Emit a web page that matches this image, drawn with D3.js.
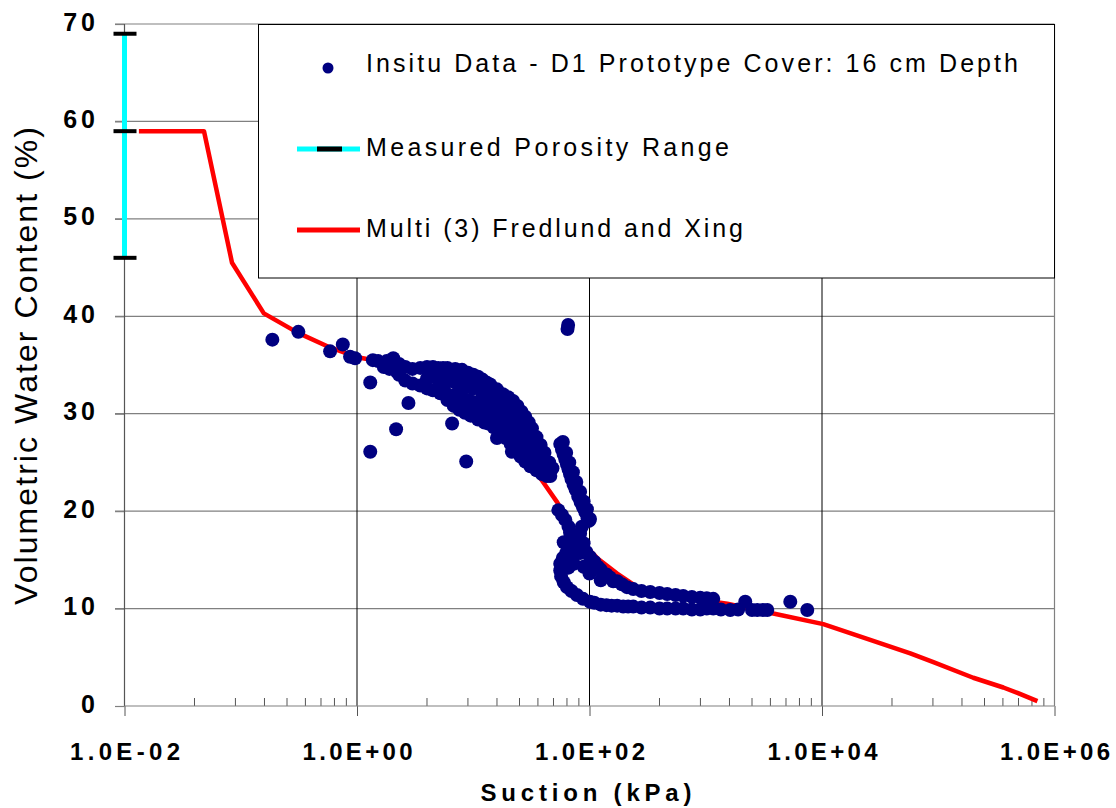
<!DOCTYPE html>
<html>
<head>
<meta charset="utf-8">
<script src="https://cdn.jsdelivr.net/npm/d3@7"></script>
<style>
  body { margin: 0; background: #fff; }
  svg { display: block; font-family: "Liberation Sans", Arial, sans-serif; }
</style>
</head>
<body>
<svg id="chart" width="1116" height="808"></svg>
<script>
// in situ readings, [suction (kPa), volumetric water content (%)]
var insituData = [
  // scattered points
  [0.187,37.6],[0.313,38.4],[0.587,36.4],[0.755,37.1],[0.872,35.85],[0.963,35.7],
  [1.30,33.2],[1.30,26.1],[2.17,28.4],[2.77,31.1],[6.58,29.0],[8.7,25.1],[16.0,27.5],[21.5,26.1],
  [64.7,38.7],[65.5,39.1],
  // main band
  [1.37,35.5],[1.52,35.4],[1.7,34.8],[1.9,34.6],[2.05,35.7],[2.2,34.3],[2.3,34.0],
  [1.8,35.4],[2.0,35.3],[2.3,35.1],[2.6,34.8],[3.0,34.6],[3.5,34.7],[4.0,34.8],[4.5,34.8],[5.0,34.7],
  [5.5,34.7],[6.0,34.7],[7.0,34.6],[8.0,34.5],[9.0,34.2],[10,34.0],[11,33.8],[12,33.5],[13,33.2],
  [14,33.0],[16,32.5],[18,32.0],[20,31.7],[22,31.3],[24,30.8],[26,30.2],[28,29.7],[30,29.1],[32,28.5],
  [35,27.6],[38,26.8],[41,26.0],[45,25.0],[48,24.4],
  [4.5,34.1],[5.5,34.0],[6.5,33.9],[7.5,33.8],[8.5,33.6],[9.5,33.4],[11,33.0],[13,32.4],[15,31.9],
  [17,31.4],[19,30.9],[21,30.5],[23.5,29.9],[26.5,29.1],[29.5,28.2],[33,27.2],[36,26.3],[39,25.6],[43,24.8],
  [4,33.6],[5,33.45],[6,33.3],[7,33.2],[8,33.0],[9,32.8],[10,32.6],[12,32.0],[14,31.6],[16,31.2],
  [18,30.7],[20,30.2],[22,29.8],[25,29.0],[28,28.2],[31,27.4],[34,26.6],[37,25.9],
  [6,32.0],[7,31.9],[8,31.7],[9,31.4],[10,31.2],[12,30.8],[14,30.3],[16,29.9],[18,29.4],[20,28.8],
  [22,28.3],[25,27.3],[28,26.6],[31,25.8],[34,25.2],
  [5.5,32.4],[6.5,31.7],[7.5,31.2],[8.5,30.8],[9.5,30.5],[11,30.1],[13,29.7],[15,29.3],[17,28.7],
  [19,28.2],[21,27.7],[23.5,27.0],[26.5,26.2],[29.5,25.6],[33,24.9],[37,24.4],[41,24.0],
  [2.6,33.4],[3.0,33.1],[3.5,32.9],[4.0,32.6],[4.5,32.4],[5.2,32.1],[6.0,31.4],[6.8,30.8],[7.6,30.4],
  [8.5,30.1],[9.5,29.8],[11,29.4],[12.5,29.1],[13.5,29.0],[15,28.6],[17,28.0],[19,27.5],[21,26.9],
  [23,26.3],[25.5,25.6],[28,25.1],[31,24.6],[35,24.2],[39,23.8],[43,23.6],[46,23.6],
  // right branch
  [56,26.9],[58,26.3],[60,25.8],[62,25.3],[64,24.8],[66,24.3],[68,23.8],[70,23.3],[73,22.7],[76,22.2],
  [80,21.5],[84,20.9],[88,20.4],[92,19.9],[96,19.3],[99,19.0],
  [59,27.1],[63,26.0],[67,25.0],[72,24.0],[77,23.0],[83,22.0],[89,21.0],[95,20.2],[101,19.2],
  // lower blob
  [54,20.1],[58,19.6],[62,19.1],[66,18.4],[68,17.8],[72,17.0],[66,16.3],[63,15.7],[59,15.2],[56,14.6],
  [56,13.9],[57,13.3],[60,12.7],[64,12.2],[70,11.8],[78,11.4],[88,11.0],[101,10.7],[78,16.4],[83,17.7],
  [89,16.7],[83,15.7],[73,14.6],[89,14.3],[101,15.3],[100,13.6],[66,14.2],
  [60,16.8],[75,15.6],[94,15.8],[86,18.4],[70,15.2],
  // upper tail
  [110,14.8],[118,14.3],[125,14.0],[125,12.9],[140,13.5],[150,13.2],[160,12.8],[173,12.8],[190,12.5],
  [210,12.2],[238,12.0],[280,11.8],[333,11.7],[400,11.6],[466,11.5],[550,11.4],[640,11.3],[760,11.2],
  [897,11.1],[1020,11.05],[1160,11.0],
  // lower tail
  [110,10.6],[125,10.4],[140,10.35],[155,10.3],[173,10.3],[195,10.2],[215,10.2],[238,10.2],[280,10.1],
  [333,10.1],[400,10.0],[466,10.0],[550,10.0],[640,10.0],[760,9.9],[897,9.9],[1020,10.0],[1160,10.0],
  [1350,9.9],[1625,9.85],[1900,9.9],[2187,10.7],[2500,9.85],[2775,9.85],[3100,9.85],[3383,9.85],
  [5336,10.7],[7470,9.85]
];

// Multi (3) Fredlund and Xing fit
var fitSuction = [0.0133, 0.0483, 0.0841, 0.158, 0.311, 0.586, 1.0, 3.04, 6.33, 14.0, 25.4, 37.7, 52.8,
  83.2, 116, 173, 273, 603, 1531, 3810, 10260, 24500, 57500, 90800, 200000, 363000, 480000, 713000];
var fitVWC = [59, 59, 45.5, 40.3, 38.3, 36.8, 35.8, 34.8, 33.8, 31.5, 27.8, 23.4, 20.9,
  17.0, 15.2, 13.6, 12.0, 11.2, 10.5, 9.5, 8.4, 6.9, 5.4, 4.5, 2.9, 1.9, 1.35, 0.5];

// measured porosity: min, value, max
var porositySuction = 0.01;
var porosityValues = [46, 59, 69];

var yTicks = [0, 10, 20, 30, 40, 50, 60, 70];
var xMajorTicks = [1e-2, 1e0, 1e2, 1e4, 1e6];
var xTickLabels = ["1.0E-02", "1.0E+00", "1.0E+02", "1.0E+04", "1.0E+06"];
var legendLabels = ["Insitu Data - D1 Prototype Cover: 16 cm Depth", "Measured Porosity Range", "Multi (3) Fredlund and Xing"];

function drawChart(){
  var svg = d3.select("#chart");
  var x = d3.scaleLog().domain([1e-2, 1e6]).range([124.5, 1054.5]);
  var y = d3.scaleLinear().domain([0, 70]).range([706, 24]);
  var left = x.range()[0], right = x.range()[1];

  // horizontal grid
  svg.append("g").selectAll("line").data(yTicks.slice(1)).join("line")
    .attr("x1", 115).attr("x2", right)
    .attr("y1", d => y(d)).attr("y2", d => y(d))
    .attr("stroke", "#808080").attr("stroke-width", 1.2);

  // vertical grid
  svg.append("g").selectAll("line").data(xMajorTicks.slice(1, -1)).join("line")
    .attr("x1", d => x(d)).attr("x2", d => x(d))
    .attr("y1", y(0)).attr("y2", y(70))
    .attr("stroke", "#000").attr("stroke-width", 1);
  svg.append("line")
    .attr("x1", right).attr("x2", right).attr("y1", y(0)).attr("y2", y(70))
    .attr("stroke", "#808080").attr("stroke-width", 1.2);

  // y axis
  var yAxis = svg.append("g")
    .attr("transform", `translate(${left},0)`)
    .call(d3.axisLeft(y).tickValues(yTicks).tickSize(9.5).tickPadding(16));
  yAxis.select(".domain").remove();
  yAxis.selectAll(".tick line").attr("stroke", "#808080").attr("stroke-width", 1.2);
  yAxis.selectAll("text")
    .attr("dy", "0.24em")
    .attr("font-family", "Liberation Sans, Arial, sans-serif")
    .attr("font-size", 25).attr("font-weight", "bold")
    .attr("letter-spacing", 4).attr("fill", "#000");
  svg.append("line")
    .attr("x1", left).attr("x2", left).attr("y1", y(0)).attr("y2", y(70))
    .attr("stroke", "#555").attr("stroke-width", 1.2);

  // x axis
  var xAxis = svg.append("g")
    .attr("transform", `translate(0,${y(0)})`)
    .call(d3.axisBottom(x).tickValues(xMajorTicks).tickSize(10)
      .tickFormat((d, i) => xTickLabels[i]));
  xAxis.select(".domain").remove();
  xAxis.selectAll(".tick line").attr("stroke", "#555");
  xAxis.selectAll("text")
    .attr("y", 54).attr("dy", 0)
    .attr("font-family", "Liberation Sans, Arial, sans-serif")
    .attr("font-size", 24).attr("font-weight", "bold").attr("fill", "#000")
    .attr("textLength", 110).attr("lengthAdjust", "spacing");

  var minorTicks = xMajorTicks.slice(0, -1).flatMap(m => d3.range(2, 10).map(k => m * k * k));
  svg.append("g").selectAll("line").data(minorTicks).join("line")
    .attr("x1", d => x(d)).attr("x2", d => x(d))
    .attr("y1", y(0)).attr("y2", y(0) - 8)
    .attr("stroke", "#555");
  svg.append("line")
    .attr("x1", left).attr("x2", right).attr("y1", y(0)).attr("y2", y(0))
    .attr("stroke", "#808080").attr("stroke-width", 1.2);

  // axis titles
  svg.append("text")
    .attr("transform", "translate(37,366) rotate(-90)")
    .attr("text-anchor", "middle")
    .attr("font-size", 32)
    .attr("textLength", 478).attr("lengthAdjust", "spacing")
    .text("Volumetric Water Content (%)");
  svg.append("text")
    .attr("x", 586).attr("y", 801)
    .attr("text-anchor", "middle")
    .attr("font-size", 24).attr("font-weight", "bold")
    .attr("textLength", 211).attr("lengthAdjust", "spacing")
    .text("Suction (kPa)");

  // legend box
  svg.append("rect")
    .attr("x", 258.5).attr("y", 24.5)
    .attr("width", right - 258.5).attr("height", 253.5)
    .attr("fill", "#fff").attr("stroke", "#000");

  // fitted curve
  var line = d3.line().x(d => x(d[0])).y(d => y(d[1]));
  svg.append("path")
    .datum(d3.zip(fitSuction, fitVWC))
    .attr("d", line)
    .attr("fill", "none").attr("stroke", "#ff0000")
    .attr("stroke-width", 4.5).attr("stroke-linejoin", "round");

  // in situ points
  svg.append("g").selectAll("circle").data(insituData).join("circle")
    .attr("cx", d => x(d[0])).attr("cy", d => y(d[1]))
    .attr("r", 7).attr("fill", "#000080");

  // porosity range bar
  var px = x(porositySuction);
  svg.append("line")
    .attr("x1", px).attr("x2", px)
    .attr("y1", y(d3.max(porosityValues))).attr("y2", y(d3.min(porosityValues)))
    .attr("stroke", "#00ffff").attr("stroke-width", 5);
  svg.append("g").selectAll("line").data(porosityValues).join("line")
    .attr("x1", px - 11).attr("x2", px + 12)
    .attr("y1", d => y(d)).attr("y2", d => y(d))
    .attr("stroke", "#000").attr("stroke-width", 4);

  // legend entries
  var lg = svg.append("g");
  lg.append("circle").attr("cx", 328).attr("cy", 68).attr("r", 5.5).attr("fill", "#000080");
  lg.append("line").attr("x1", 297).attr("x2", 360).attr("y1", 149).attr("y2", 149)
    .attr("stroke", "#00ffff").attr("stroke-width", 5);
  lg.append("line").attr("x1", 317).attr("x2", 342).attr("y1", 149).attr("y2", 149)
    .attr("stroke", "#000").attr("stroke-width", 5);
  lg.append("line").attr("x1", 297).attr("x2", 360).attr("y1", 230).attr("y2", 230)
    .attr("stroke", "#ff0000").attr("stroke-width", 5);

  var legendY = [72, 156, 237];
  var legendW = [652, 363, 377];
  lg.selectAll("text").data(legendLabels).join("text")
    .attr("x", 366).attr("y", (d, i) => legendY[i])
    .attr("font-size", 25)
    .attr("textLength", (d, i) => legendW[i]).attr("lengthAdjust", "spacing")
    .text(d => d);
}

drawChart();
</script>
</body>
</html>
